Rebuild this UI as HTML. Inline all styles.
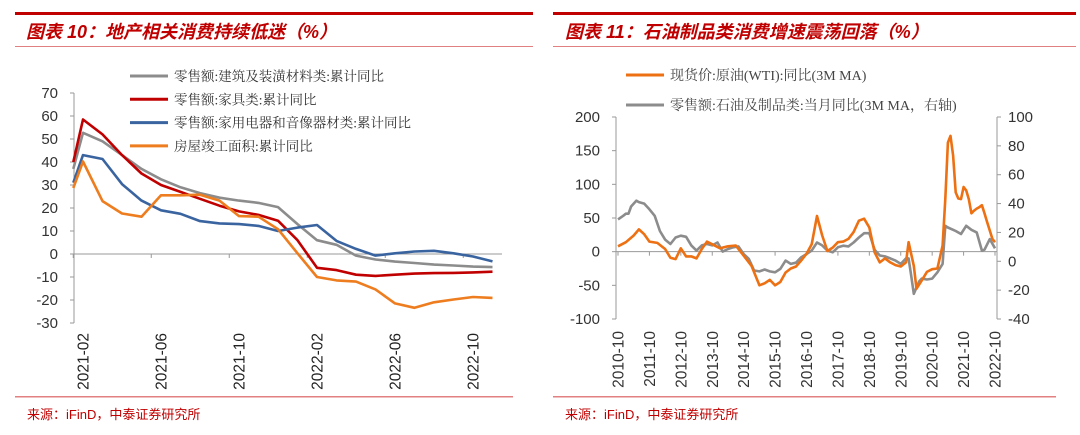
<!DOCTYPE html>
<html><head><meta charset="utf-8">
<style>
body{margin:0;background:#fff;width:1080px;height:430px;overflow:hidden;font-family:"Liberation Sans","Noto Sans CJK SC",sans-serif;}
svg text{font-family:"Liberation Sans","Noto Sans CJK SC",sans-serif;}
svg text.serif{font-family:"Liberation Serif","Noto Serif CJK SC",serif;}
</style></head>
<body>
<svg id="s" width="1080" height="430" viewBox="0 0 1080 430">
  <rect x="15" y="12" width="518" height="3" fill="#c00000"/>
  <text x="26" y="38" font-size="18" font-weight="bold" font-style="italic" fill="#c00000">图表 10：地产相关消费持续低迷（%）</text>
  <rect x="15" y="46" width="518" height="1" fill="#e08080"/>
  <rect x="553" y="12" width="523" height="3" fill="#c00000"/>
  <text x="565" y="38" font-size="18" font-weight="bold" font-style="italic" fill="#c00000">图表 11：石油制品类消费增速震荡回落（%）</text>
  <rect x="553" y="46" width="523" height="1" fill="#e08080"/>
  <rect x="15" y="396" width="498" height="1.5" fill="#e08080"/>
  <text x="27" y="419" font-size="13" fill="#c00000">来源：iFinD，中泰证券研究所</text>
  <rect x="553" y="396" width="503" height="1.5" fill="#e08080"/>
  <text x="565" y="419" font-size="13" fill="#c00000">来源：iFinD，中泰证券研究所</text>
  <g id="left"></g>
  <g id="right"></g>
</svg>
<script>
// ===== Left chart data =====
const lMonths = [-0.5,0,1,2,3,4,5,6,7,8,9,10,11,12,13,14,15,16,17,18,19,20,21];
const lTickIdx = [0,4,8,12,16,20];
const lTickLabels = ["2021-02","2021-06","2021-10","2022-02","2022-06","2022-10"];
const lYTicks = [70,60,50,40,30,20,10,0,-10,-20,-30];
const lSeriesNames = ["零售额:建筑及装潢材料类:累计同比","零售额:家具类:累计同比","零售额:家用电器和音像器材类:累计同比","房屋竣工面积:累计同比"];
const lSeriesColors = ["#8c8c8c","#c00000","#3a64a0","#ed7d1f"];
const grayBuild = [37,52.7,49,43,37,32.5,29,26.5,24.5,23.2,22.2,20.4,13,6,4,-0.7,-2.4,-3.3,-3.9,-4.6,-5,-5.5,-5.7];
const redFurn = [40,58.5,52,43,35,30,27,24,21,18.5,17,14.5,6,-6,-7,-9,-9.5,-9,-8.5,-8.3,-8.2,-8,-7.7];
const blueAppl = [31,43,41.3,30.4,23.2,19,17.5,14.3,13.3,13,12.2,10,11.5,12.6,5.7,2.2,-0.7,0.3,1.1,1.4,0.3,-1.1,-3.2];
const orangeComp = [28.7,40.2,23,17.6,16.2,25.5,25.5,25.8,23.2,16.5,16.2,10.8,0.3,-10,-11.5,-12,-15.4,-21.5,-23.4,-21,-19.8,-18.7,-19.1];

// ===== Right chart data (month index from 2010-10) =====
const rTickLabels = ["2010-10","2011-10","2012-10","2013-10","2014-10","2015-10","2016-10","2017-10","2018-10","2019-10","2020-10","2021-10","2022-10"];
const rLeftTicks = [200,150,100,50,0,-50,-100];
const rRightTicks = [100,80,60,40,20,0,-20,-40];
const oilMonths = [0,3,6,8,10,12,15,18,20,22,24,26,28,30,32,34,36,39,42,45,48,51,54,56,58,60,62,64,66,68,70,72,74,76,78,80,82,84,86,88,90,92,94,96,98,100,102,104,106,108,110,111,113,114,116,118,120,122,124,125,126,127,128,129,130,131,132,133,134,135,136,137,138,139,140,141,143,144];
const oilValues = [8,14,24,33,26,15,13,4,-9,-11,5,-7,-7,-10,4,15,11,5,8,9,-6,-21,-50,-47,-42,-50,-45,-31,-25,-22,-13,-3,11,53,24,1,6,14,15,19,29,46,49,36,-1,-16,-10,-16,-20,-22,-16,14,-21,-55,-43,-30,-26,-25,9,78,162,172,143,88,79,78,96,91,78,57,61,64,66,69,57,44,19,14];
const retailMonths = [0,2,3,4,5,7,8,10,12,14,16,18,20,22,24,26,28,30,32,34,36,38,40,42,44,46,48,50,52,54,56,58,60,62,64,66,68,70,72,74,76,78,80,82,84,86,88,90,92,94,96,98,100,102,104,106,108,110,111,112,113,115,116,118,120,122,124,125,126,128,129,131,133,135,137,139,140,142,144];
const retailValues = [29,31.5,33,33,38,42,41,40,36,31.5,21,15,12,16.5,17.7,17,11,7.4,11,12,11,13,6.7,8.5,9.7,10.3,5,1.6,-6.4,-7,-5.7,-7,-7.6,-5.3,0.5,-1.8,-1,2.8,5,7.4,13,11,7.4,6.2,9.7,10.8,10.3,13,16.5,19.5,19.5,8,4,3.4,2,0.5,-1.8,2,2,-10,-22.5,-14,-12,-12.6,-12,-7.6,-1.8,24.6,23.4,21.8,21,18.9,24.6,21.8,20,7.4,8,15.4,9];

const NS="http://www.w3.org/2000/svg";
function mk(parent,tag,attrs){const e=document.createElementNS(NS,tag);for(const k in attrs)e.setAttribute(k,attrs[k]);parent.appendChild(e);return e;}

(function(){
  const g=document.getElementById('left');
  const x0=83, dx=19.5, yTop=93, yBot=323, vTop=70, vBot=-30;
  const X=i=>x0+i*dx;
  const Y=v=>yTop+(vTop-v)*(yBot-yTop)/(vTop-vBot);
  const axis=mk(g,'line',{x1:74,y1:yTop,x2:74,y2:yBot,stroke:'#999','stroke-width':1});
  
  
  lYTicks.forEach(v=>{
    const t=mk(g,'line',{x1:70,y1:Y(v),x2:74,y2:Y(v),stroke:'#999'});
    
    
    const tx=mk(g,'text',{x:58,y:Y(v)+5,'font-size':15,'text-anchor':'end',fill:'#333'});
    tx.textContent=v;
    
    
  });
  const xa=mk(g,'line',{x1:74,y1:Y(0),x2:502,y2:Y(0),stroke:'#999','stroke-width':1});
  
  
  lTickIdx.forEach((i,k)=>{
    const t=mk(g,'line',{x1:X(i)-9.75,y1:Y(0),x2:X(i)-9.75,y2:Y(0)+4,stroke:'#999'});
    
    
    const tx=mk(g,'text',{x:0,y:0,'font-size':15.5,'text-anchor':'end',fill:'#222',transform:`translate(${X(i)+5.5},333) rotate(-90)`});
    tx.textContent=lTickLabels[k];
    
    
  });
  const series=[grayBuild,redFurn,blueAppl,orangeComp];
  const seriesKeys=['building-materials-line','furniture-line','appliances-line','completed-area-line'];
  series.forEach((arr,si)=>{
    const pts=arr.map((v,i)=>X(lMonths[i]).toFixed(1)+','+Y(v).toFixed(1)).join(' ');
    const p=mk(g,'polyline',{points:pts,fill:'none',stroke:lSeriesColors[si],'stroke-width':2.6,'stroke-linejoin':'round'});
    
    
  });
  lSeriesNames.forEach((n,si)=>{
    const y=76+si*23.3;
    const l=mk(g,'line',{x1:130,y1:y,x2:168,y2:y,stroke:lSeriesColors[si],'stroke-width':3});
    
    
    const t=mk(g,'text',{x:174,y:y+5,'font-size':13.5,fill:'#333',class:'serif'});
    t.textContent=n;
    
    
  });
})();

(function(){
  const g=document.getElementById('right');
  const x0=618, dm=377/144;
  const X=m=>x0+m*dm;
  const yT=117, yB=319;
  const YL=v=>yT+(200-v)*(yB-yT)/300;
  const YR=v=>yT+(100-v)*(yB-yT)/140;
  const la=mk(g,'line',{x1:616,y1:yT,x2:616,y2:yB,stroke:'#999'});
  
  
  const ra=mk(g,'line',{x1:997,y1:yT,x2:997,y2:yB,stroke:'#999'});
  
  
  rLeftTicks.forEach(v=>{
    const t=mk(g,'line',{x1:612,y1:YL(v),x2:616,y2:YL(v),stroke:'#999'});
    
    
    const tx=mk(g,'text',{x:600,y:YL(v)+5,'font-size':15,'text-anchor':'end',fill:'#333'});
    tx.textContent=v;
    
    
  });
  rRightTicks.forEach(v=>{
    const t=mk(g,'line',{x1:997,y1:YR(v),x2:1001,y2:YR(v),stroke:'#999'});
    
    
    const tx=mk(g,'text',{x:1008,y:YR(v)+5,'font-size':15,fill:'#333'});
    tx.textContent=v;
    
    
  });
  const xa=mk(g,'line',{x1:616,y1:YL(0),x2:997,y2:YL(0),stroke:'#999'});
  
  
  rTickLabels.forEach((lab,k)=>{
    const xx=X(k*12);
    const t=mk(g,'line',{x1:xx,y1:YL(0),x2:xx,y2:YL(0)+4,stroke:'#999'});
    
    
    const tx=mk(g,'text',{x:0,y:0,'font-size':15.5,'text-anchor':'end',fill:'#333',transform:`translate(${xx+5.5},331) rotate(-90)`});
    tx.textContent=lab;
    
    
  });
  const gp=retailMonths.map((m,i)=>X(m).toFixed(1)+','+YR(retailValues[i]).toFixed(1)).join(' ');
  const gl=mk(g,'polyline',{points:gp,fill:'none',stroke:'#8c8c8c','stroke-width':2.6,'stroke-linejoin':'round'});
  
  
  const op=oilMonths.map((m,i)=>X(m).toFixed(1)+','+YL(oilValues[i]).toFixed(1)).join(' ');
  const ol=mk(g,'polyline',{points:op,fill:'none',stroke:'#ed7012','stroke-width':2.6,'stroke-linejoin':'round'});
  
  
  const legend=[["现货价:原油(WTI):同比(3M MA)","#ed7012",75],["零售额:石油及制品类:当月同比(3M MA，右轴)","#8c8c8c",105]];
  legend.forEach(([n,c,y])=>{
    const l=mk(g,'line',{x1:626,y1:y,x2:664,y2:y,stroke:c,'stroke-width':3});
    
    
    const t=mk(g,'text',{x:670,y:y+5,'font-size':14,fill:'#444',class:'serif'});
    t.textContent=n;
    
    
  });
})();
</script>
</body></html>
